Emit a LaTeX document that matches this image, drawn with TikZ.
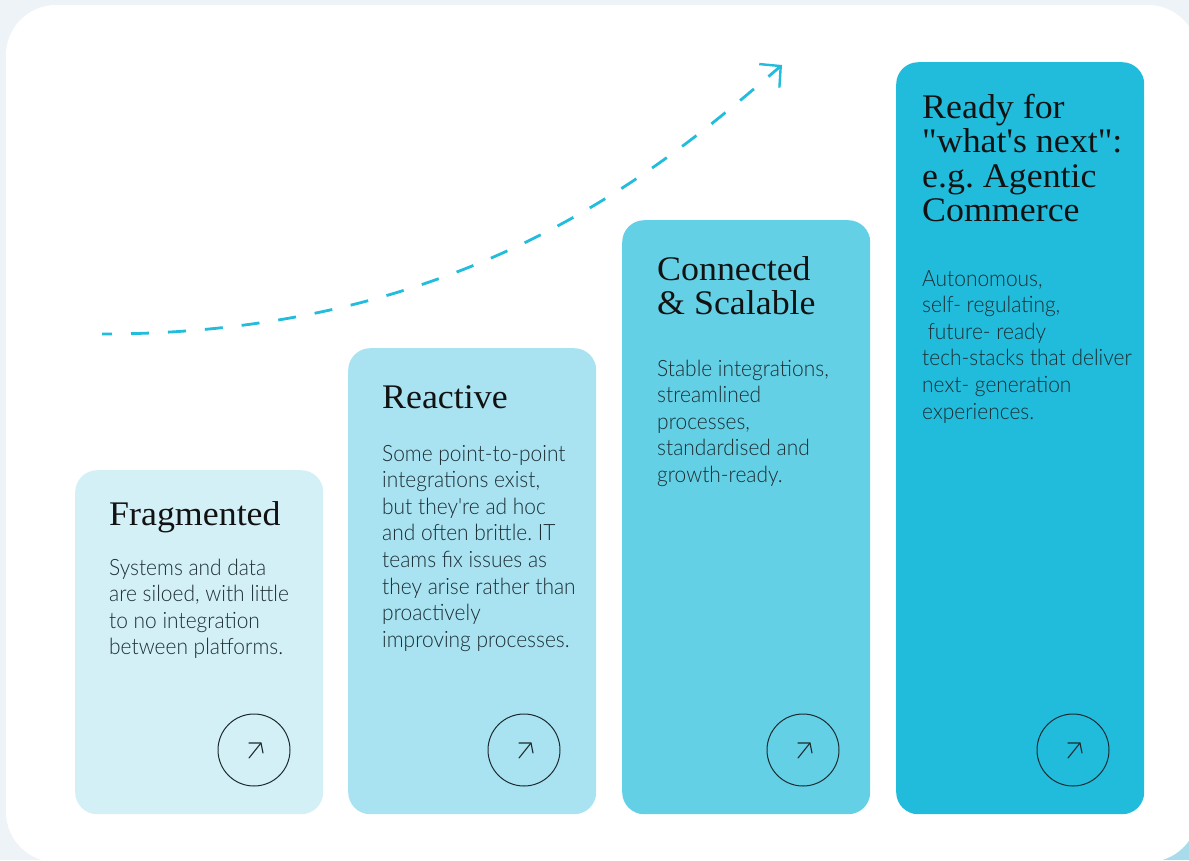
\documentclass[tikz,border=0pt]{standalone}
\usepackage{fontspec}
\setmainfont{Liberation Serif}[Ligatures=TeXOff, FakeStretch=1.04]
\newfontfamily\bodyfont{Lato Light}[Ligatures=TeXOff, FakeStretch=0.93]
\usetikzlibrary{arrows.meta}
\frenchspacing

\definecolor{pagebg}{HTML}{EEF3F7}
\definecolor{cornerblue}{HTML}{A9DCEA}
\definecolor{tierA}{HTML}{D4F0F7}
\definecolor{tierB}{HTML}{A9E3F1}
\definecolor{tierC}{HTML}{64D0E5}
\definecolor{tierD}{HTML}{21BCDC}
\definecolor{trend}{HTML}{22BCDC}
\definecolor{ink}{HTML}{121212}
\definecolor{bodyink}{HTML}{1C2E34}
\definecolor{ringink}{HTML}{1C2B30}

\tikzset{
  card/.style={rectangle, rounded corners=22pt, draw=none, inner sep=0pt,
    minimum width=248pt, anchor=north west},
  heading/.style={anchor=base west, inner sep=0pt, text=ink,
    font=\fontsize{34.5}{34.5}\selectfont},
  blurb/.style={anchor=base west, inner sep=0pt, text=bodyink,
    font=\bodyfont\fontsize{22.5}{26.6}\selectfont},
  ring/.style={circle, draw=ringink, line width=1pt, minimum size=72pt, inner sep=0pt},
  icon/.style={draw=ringink, line width=1.1pt, line cap=round, line join=round},
  goarrow/.pic={
    \draw[icon] (-5,8) -- (7,-7);
    \draw[icon] (-5,-7) -- (7,-7) -- (9,3);
  },
  trendline/.style={draw=trend, line width=2.8pt, dash pattern=on 18pt off 19pt,
    dash phase=8pt}
}

\begin{document}
\begin{tikzpicture}[x=1pt, y=-1pt]
  \useasboundingbox (0,0) rectangle (1189,860);

  % page backdrop and the white panel
  \fill[pagebg] (0,0) rectangle (1189,860);
  \fill[cornerblue] (1100,770) rectangle (1189,860);
  \fill[white, rounded corners=50pt] (6,5) rectangle (1198,862);

  % rising trend
  \coordinate (trendstart) at (102,334);
  \coordinate (trendend) at (782,65);
  \draw[trendline, -{Straight Barb[length=15pt, width=31pt, line width=2.4pt]}]
    (trendstart) .. controls (470,334) and (665,165) .. (trendend);

  % tier cards
  \node[card, fill=tierA, minimum height=344pt] (c1) at (75,470) {};
  \node[card, fill=tierB, minimum height=466pt] (c2) at (348,348) {};
  \node[card, fill=tierC, minimum height=594pt] (c3) at (622,220) {};
  \node[card, fill=tierD, minimum height=752pt] (c4) at (896,62) {};

  % card 1
  \node[heading] (h1) at (109,525) {Fragmented};
  \node[blurb] (b1) at (109,575) {\begin{tabular}[t]{@{}l@{}}Systems and data\\
    are siloed, with little\\ to no integration\\ between platforms.\end{tabular}};

  % card 2
  \node[heading] (h2) at (382,408) {Reactive};
  \node[blurb] (b2) at (382,461) {\begin{tabular}[t]{@{}l@{}}Some point-to-point\\
    integrations exist,\\ but they're ad hoc\\ and often brittle. IT\\
    teams fix issues as\\ they arise rather than\\ proactively\\
    improving processes.\end{tabular}};

  % card 3
  \node[heading] (h3) at (657,280) {\begin{tabular}[t]{@{}l@{}}Connected\\ \&~Scalable\end{tabular}};
  \node[blurb] (b3) at (657,376) {\begin{tabular}[t]{@{}l@{}}Stable integrations,\\
    streamlined\\ processes,\\ standardised and\\ growth-ready.\end{tabular}};

  % card 4
  \node[heading] (h4) at (922,118) {\begin{tabular}[t]{@{}l@{}}Ready for\\
    "what's next":\\ e.g. Agentic\\ Commerce\end{tabular}};
  \node[blurb] (b4) at (922,286) {\begin{tabular}[t]{@{}l@{}}Autonomous,\\
    self- regulating,\\ \hspace{0.25em}future- ready\\ tech-stacks that deliver\\
    next- generation\\ experiences.\end{tabular}};

  % link rings
  \node[ring] (r1) at (254,750) {};
  \node[ring] (r2) at (524,750) {};
  \node[ring] (r3) at (803,750) {};
  \node[ring] (r4) at (1073,750) {};
  \foreach \r in {r1,r2,r3,r4} \pic at (\r) {goarrow};
\end{tikzpicture}
\end{document}
